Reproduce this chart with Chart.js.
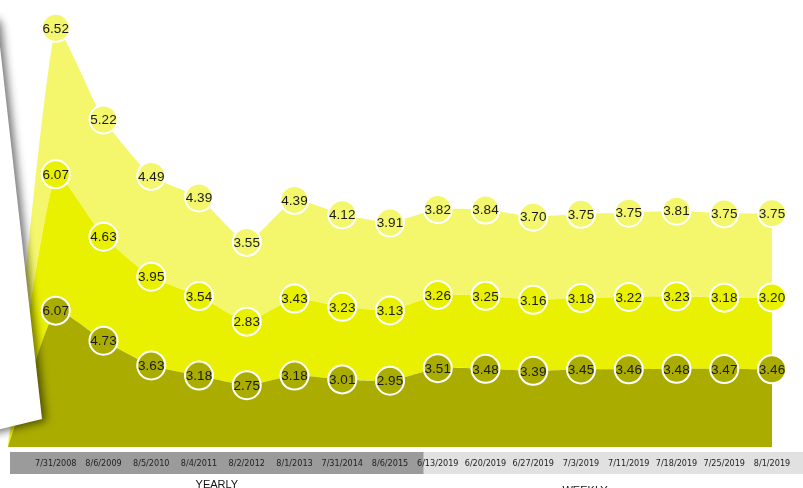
<!DOCTYPE html>
<html>
<head>
<meta charset="utf-8">
<script src="https://cdn.jsdelivr.net/npm/chart.js@4.4.1/dist/chart.umd.min.js"></script>
<style>
  html, body { margin: 0; padding: 0; background: #ffffff; }
  #wrap { width: 803px; height: 488px; position: relative; overflow: hidden; }
</style>
</head>
<body>
<div id="wrap"><canvas id="c"></canvas></div>
<script>
// ---- data ----
const categories = ['', '7/31/2008', '8/6/2009', '8/5/2010', '8/4/2011', '8/2/2012', '8/1/2013', '7/31/2014', '8/6/2015',
  '6/13/2019', '6/20/2019', '6/27/2019', '7/3/2019', '7/11/2019', '7/18/2019', '7/25/2019', '8/1/2019'];
const bottomValues = [0, 6.07, 4.73, 3.63, 3.18, 2.75, 3.18, 3.01, 2.95, 3.51, 3.48, 3.39, 3.45, 3.46, 3.48, 3.47, 3.46];
const middleValues = [0, 6.07, 4.63, 3.95, 3.54, 2.83, 3.43, 3.23, 3.13, 3.26, 3.25, 3.16, 3.18, 3.22, 3.23, 3.18, 3.20];
const topValues    = [0, 6.52, 5.22, 4.49, 4.39, 3.55, 4.39, 4.12, 3.91, 3.82, 3.84, 3.70, 3.75, 3.75, 3.81, 3.75, 3.75];
const groupLabels = ['YEARLY', 'WEEKLY'];
const yearlyCount = 8; // number of yearly categories after the leading empty one

const COL_BOTTOM = '#aaad00';
const COL_MIDDLE = '#e9f100';
const COL_TOP = '#f4f76c';

function radii(arr) { return arr.map((v, i) => i === 0 ? 0 : 14); }

function ds(label, data, color, fill) {
  return {
    label, data, fill,
    backgroundColor: color,
    borderColor: color,
    borderWidth: 0,
    tension: 0.15,
    pointRadius: radii(data),
    pointHoverRadius: radii(data),
    pointBackgroundColor: color,
    pointBorderColor: '#ffffff',
    pointBorderWidth: 2,
    clip: false
  };
}

const decor = {
  id: 'decor',
  beforeDraw(chart) {
    const ctx = chart.ctx;
    const x = chart.scales.x;
    const split = x.getPixelForValue(yearlyCount + 1) - 14;
    ctx.save();
    ctx.fillStyle = '#9b9b9b';
    ctx.fillRect(10, 452, split - 10, 22);
    ctx.fillStyle = '#e1e1e1';
    ctx.fillRect(split, 452, chart.width - split, 22);
    ctx.fillStyle = '#111';
    ctx.font = '11px "Liberation Sans", Arial, sans-serif';
    ctx.textAlign = 'center';
    ctx.textBaseline = 'alphabetic';
    ctx.fillText(groupLabels[0], (10 + split) / 2, 488);
    ctx.fillText(groupLabels[1], 585, 494);
    ctx.restore();
  },
  afterDatasetsDraw(chart) {
    const ctx = chart.ctx;
    // paper sheet at the left
    ctx.save();
    ctx.shadowColor = 'rgba(0,0,0,0.55)';
    ctx.shadowBlur = 9;
    ctx.shadowOffsetX = 4;
    ctx.shadowOffsetY = 2;
    ctx.fillStyle = '#ffffff';
    ctx.beginPath();
    ctx.moveTo(-80, -20);
    ctx.lineTo(-3, 20);
    ctx.lineTo(42, 419);
    ctx.lineTo(-20, 434);
    ctx.closePath();
    ctx.fill();
    ctx.restore();
    // value labels
    ctx.save();
    ctx.font = '13.5px "Liberation Sans", Arial, sans-serif';
    ctx.fillStyle = '#1a1a1a';
    ctx.textAlign = 'center';
    ctx.textBaseline = 'middle';
    chart.data.datasets.forEach((d, di) => {
      const meta = chart.getDatasetMeta(di);
      meta.data.forEach((pt, i) => {
        if (i === 0) return;
        ctx.fillText(d.data[i].toFixed(2), pt.x, pt.y + 1);
      });
    });
    ctx.restore();
  }
};

new Chart(document.getElementById('c'), {
  type: 'line',
  data: {
    labels: categories,
    datasets: [
      ds('Bottom', bottomValues, COL_BOTTOM, 'origin'),
      ds('Middle', middleValues, COL_MIDDLE, '-1'),
      ds('Top', topValues, COL_TOP, '-1')
    ]
  },
  options: {
    responsive: true,
    maintainAspectRatio: false,
    animation: false,
    devicePixelRatio: 1,
    layout: { autoPadding: false, padding: { left: 8, right: 31, top: 0, bottom: 0 } },
    plugins: {
      legend: { display: false },
      tooltip: { enabled: false },
      filler: { drawTime: 'beforeDatasetsDraw' }
    },
    scales: {
      x: {
        type: 'category',
        offset: false,
        grid: { display: false, drawTicks: false },
        border: { display: false },
        ticks: {
          autoSkip: false, maxRotation: 0, minRotation: 0, padding: 11,
          color: '#222', font: { size: 9, family: '"Liberation Sans Narrow", "DejaVu Sans Condensed", "Liberation Sans", Arial, sans-serif' }
        },
        afterFit(s) { s.height = 41; s.paddingLeft = 0; s.paddingRight = 0; }
      },
      y: { display: false, stacked: true, min: 0, max: 19.9 }
    }
  },
  plugins: [decor]
});
</script>
</body>
</html>
